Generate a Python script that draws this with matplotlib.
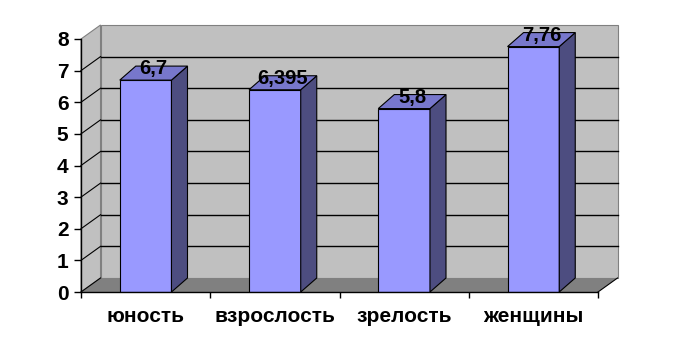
import matplotlib.pyplot as plt
from matplotlib.patches import Polygon

categories = ['юность', 'взрослость', 'зрелость', 'женщины']
values = [6.7, 6.395, 5.8, 7.76]
labels = ['6,7', '6,395', '5,8', '7,76']
yticks = [0, 1, 2, 3, 4, 5, 6, 7, 8]

plt.rcParams['font.family'] = ['Liberation Sans', 'DejaVu Sans']
plt.rcParams['font.weight'] = 'bold'

fig = plt.figure(figsize=(6.75, 3.53), dpi=100)
ax = fig.add_axes([81 / 675, 61 / 353, 517 / 675, 253 / 353])

x0, x1 = -0.5, len(categories) - 0.5
ymax = 8
# 3D depth offsets in data units
dxw, dyw = 0.151, 0.443   # walls
dxb = 0.124               # bars
bw = 0.4

wall = '#C0C0C0'
edge = '#808080'

# side wall, back wall, floor
ax.add_patch(Polygon([(x0, 0), (x0 + dxw, dyw), (x0 + dxw, ymax + dyw), (x0, ymax)],
                     facecolor=wall, edgecolor=edge, lw=0.8, clip_on=False, zorder=0))
ax.add_patch(Polygon([(x0 + dxw, dyw), (x1 + dxw, dyw), (x1 + dxw, ymax + dyw), (x0 + dxw, ymax + dyw)],
                     facecolor=wall, edgecolor=edge, lw=0.8, clip_on=False, zorder=0))
ax.add_patch(Polygon([(x0, 0), (x1, 0), (x1 + dxw, dyw), (x0 + dxw, dyw)],
                     facecolor='#808080', edgecolor='none', clip_on=False, zorder=0.5))
ax.plot([x1, x1 + dxw], [0, dyw], color='black', lw=0.8, clip_on=False, zorder=0.6)

# gridlines
for v in yticks[1:-1]:
    ax.plot([x0 + dxw, x1 + dxw], [v + dyw, v + dyw], color='black', lw=1, clip_on=False, zorder=1)
for v in yticks[:-1]:
    ax.plot([x0, x0 + dxw], [v, v + dyw], color='black', lw=0.8, clip_on=False, zorder=1)

# bars
xs = list(range(len(categories)))
ax.bar(xs, values, width=bw, color='#9999FF', edgecolor='black', lw=0.8, zorder=3)
for x, v, lab in zip(xs, values, labels):
    l, r = x - bw / 2, x + bw / 2
    ax.add_patch(Polygon([(r, 0), (r + dxb, dyw), (r + dxb, v + dyw), (r, v)],
                         facecolor='#4D4D80', edgecolor='black', lw=0.8, clip_on=False, zorder=3))
    ax.add_patch(Polygon([(l, v), (r, v), (r + dxb, v + dyw), (l + dxb, v + dyw)],
                         facecolor='#7777CC', edgecolor='black', lw=0.8, clip_on=False, zorder=3))
    ax.text(x + dxb / 2, v + dyw - 0.08, lab, ha='center', va='center',
            fontsize=14.5, fontweight='bold', zorder=5)

ax.set_xlim(x0, x1)
ax.set_ylim(0, ymax)
ax.set_facecolor('none')
for s in ['top', 'right']:
    ax.spines[s].set_visible(False)
ax.spines['left'].set_linewidth(1)
ax.spines['bottom'].set_linewidth(1)
ax.spines['bottom'].set_zorder(4)

ax.set_yticks(yticks)
ax.set_yticklabels([str(t) for t in yticks], fontsize=15, fontweight='bold')
ax.set_xticks([x0 + i for i in range(len(categories) + 1)])
ax.set_xticklabels([])
ax.set_xticks(xs, minor=True)
ax.set_xticklabels(categories, minor=True, fontsize=15, fontweight='bold')
ax.tick_params(axis='x', which='major', direction='out', length=4, width=1)
ax.tick_params(axis='x', which='minor', length=0, pad=11)
ax.tick_params(axis='y', direction='out', length=5, width=1, pad=4)

fig.savefig('out.png', dpi=100)
